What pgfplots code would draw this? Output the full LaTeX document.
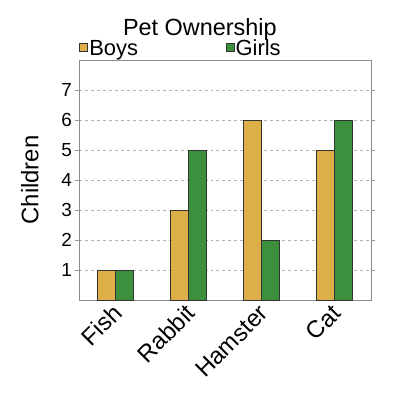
\documentclass[border=0pt]{standalone}
\usepackage{pgfplots}
\pgfplotsset{compat=1.18}
\usepackage{fontspec}
\setmainfont{Liberation Sans}
\definecolor{boys}{HTML}{DDAF48}
\definecolor{girls}{HTML}{3C8F3C}
\begin{document}
\begin{tikzpicture}[x=1bp,y=1bp]
\path[use as bounding box] (0,0) rectangle (400,400);
\begin{axis}[
  at={(79bp,100bp)}, anchor=south west,
  width=292bp, height=240bp, scale only axis,
  ybar=0pt, bar width=18bp,
  xmin=-0.5, xmax=3.5, ymin=0, ymax=8,
  xtick={0,1,2,3}, xticklabels={Fish,Rabbit,Hamster,Cat},
  x tick label style={rotate=45, anchor=east, inner sep=0pt, xshift=-2bp, yshift=-5bp, font=\fontsize{24}{24}\selectfont},
  ytick={1,2,3,4,5,6,7},
  y tick label style={font=\fontsize{19}{19}\selectfont, inner sep=0pt, xshift=-3bp},
  /pgf/number format/assume math mode=true,
  axis line style={black!45, line width=0.8pt},
  tick align=outside,
  xtick style={draw=none},
  ytick style={black!40, line width=0.8pt},
  major tick length=4bp,
  ymajorgrids, grid style={dashed, black!30, line width=0.9pt},
  ylabel={Children},
  every axis y label/.style={at={(axis description cs:-0.168,0.5)}, rotate=90, anchor=center, font=\fontsize{24}{24}\selectfont},
  title={Pet Ownership},
  every axis title/.style={at={(axis description cs:0.414,1)}, anchor=base, yshift=25bp, font=\fontsize{23.5}{23.5}\selectfont},
  legend columns=2,
  legend style={at={(axis description cs:0,1)}, anchor=south west, yshift=1bp, draw=none, fill=none, inner sep=0pt, font=\fontsize{22}{22}\selectfont,
    nodes={inner sep=1.5bp},
    /tikz/every even column/.append style={column sep=86bp}},
  legend image code/.code={\draw[#1, line width=0.6pt] (0bp,-3bp) rectangle (8bp,5bp);},
]
\addplot[fill=boys, draw=black!80, line width=0.7pt] coordinates {(0,1) (1,3) (2,6) (3,5)};
\addplot[fill=girls, draw=black!80, line width=0.7pt] coordinates {(0,1) (1,5) (2,2) (3,6)};
\legend{Boys, Girls}
\end{axis}
\end{tikzpicture}
\end{document}
